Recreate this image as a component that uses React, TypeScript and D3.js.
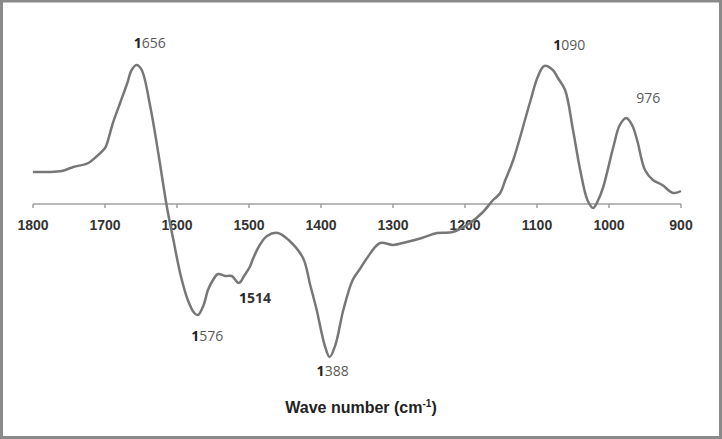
import React from 'react';
import * as d3 from 'd3';

// wave numbers (cm-1) and relative absorbance
const waveNumbers = [
  1800, 1780, 1760, 1744, 1723, 1711, 1700, 1697, 1689, 1679, 1669, 1663, 1656, 1649, 1637, 1626,
  1614, 1605, 1595, 1585, 1576, 1571, 1563, 1557, 1550, 1543, 1533, 1524, 1514, 1506, 1499, 1494,
  1485, 1475, 1460, 1445, 1425, 1415, 1406, 1395, 1388, 1380, 1369, 1356, 1345, 1336, 1318, 1300,
  1281, 1260, 1239, 1217, 1193, 1175, 1161, 1151, 1144, 1133, 1110, 1099, 1090, 1078, 1071, 1061,
  1050, 1040, 1030, 1022, 1015, 1008, 994, 985, 976, 968, 961, 950, 939, 926, 911, 900,
];
const absorbance = [
  0.32, 0.32, 0.33, 0.37, 0.41, 0.48, 0.56, 0.61, 0.81, 1.01, 1.21, 1.34, 1.39, 1.34, 0.97, 0.51,
  -0.03, -0.36, -0.71, -0.96, -1.09, -1.11, -1.01, -0.86, -0.76, -0.70, -0.72, -0.72, -0.79, -0.71, -0.63, -0.54,
  -0.41, -0.32, -0.29, -0.36, -0.54, -0.81, -1.06, -1.41, -1.53, -1.41, -1.06, -0.76, -0.64, -0.54, -0.39, -0.41,
  -0.38, -0.34, -0.29, -0.28, -0.19, -0.08, 0.04, 0.11, 0.24, 0.44, 1.01, 1.27, 1.38, 1.34, 1.26, 1.14,
  0.74, 0.34, 0.04, -0.04, 0.04, 0.17, 0.57, 0.79, 0.86, 0.79, 0.64, 0.34, 0.24, 0.19, 0.11, 0.13,
];
const tickValues = [1800, 1700, 1600, 1500, 1400, 1300, 1200, 1100, 1000, 900];
const peakLabels = [
  { wave: 1656, text: '1656', dx: 13, dy: -17, bold: 'first' },
  { wave: 1576, text: '1576', dx: 13, dy: 28, bold: 'first' },
  { wave: 1514, text: '1514', dx: 16, dy: 20, bold: 'all' },
  { wave: 1388, text: '1388', dx: 3, dy: 19, bold: 'first' },
  { wave: 1090, text: '1090', dx: 25, dy: -16, bold: 'first' },
  { wave: 976, text: '976', dx: 22, dy: -15, bold: 'none' },
];

const width = 722;
const height = 439;

const App = () => {
  const xScale = d3.scaleLinear().domain([1800, 900]).range([33, 681]);
  const yScale = d3.scaleLinear().domain([-1.6, 1.6]).range([364, 44]);

  const points: [number, number][] = waveNumbers.map((w, i) => [w, absorbance[i]]);
  const line = d3.line<[number, number]>()
    .x(d => xScale(d[0]))
    .y(d => yScale(d[1]))
    .curve(d3.curveCatmullRom.alpha(0.5));

  const axisY = yScale(0);
  const valueAt = (w: number) => {
    const p = d3.least(points, d => Math.abs(d[0] - w));
    return p ? p[1] : 0;
  };

  return (
    <div style={{ position: 'fixed', left: 0, top: 0 }}>
      <svg width={width} height={height} style={{ display: 'block' }}>
        <rect x={1.5} y={1} width={width - 3} height={height - 2.5} fill='#fff' stroke='#8a8a8a' strokeWidth={3} />
        <line x1={xScale(1800)} x2={xScale(900)} y1={axisY} y2={axisY} stroke='#a0a0a0' strokeWidth={1.5} />
        {tickValues.map(t => (
          <g key={t}>
            <line x1={xScale(t)} x2={xScale(t)} y1={axisY} y2={axisY + 4} stroke='#a0a0a0' strokeWidth={1.5} />
            <text x={xScale(t)} y={axisY + 26} textAnchor='middle'
              style={{ fontFamily: 'Liberation Sans, Arial, sans-serif', fontWeight: 'bold', fontSize: '14px', fill: '#333' }}>
              {t}
            </text>
          </g>
        ))}
        <path d={line(points) || ''} fill='none' stroke='#777' strokeWidth={2.5} strokeLinejoin='round' />
        {peakLabels.map(p => (
          <text key={p.text} x={xScale(p.wave) + p.dx} y={yScale(valueAt(p.wave)) + p.dy} textAnchor='middle'
            style={{ fontFamily: 'Open Sans, sans-serif', fontSize: '14px', fill: '#5a5a5a' }}>
            <tspan style={p.bold !== 'none' ? { fontWeight: 'bold', fill: '#222' } : {}}>{p.text[0]}</tspan>
            <tspan style={p.bold === 'all' ? { fontWeight: 'bold', fill: '#333' } : {}}>{p.text.slice(1)}</tspan>
          </text>
        ))}
        <text x={361} y={413} textAnchor='middle'
          style={{ fontFamily: 'Liberation Sans, Arial, sans-serif', fontWeight: 'bold', fontSize: '16px', fill: '#222' }}>
          Wave number (cm<tspan dy={-6} style={{ fontSize: '10px' }}>-1</tspan><tspan dy={6}>)</tspan>
        </text>
      </svg>
    </div>
  );
};

export default App;
